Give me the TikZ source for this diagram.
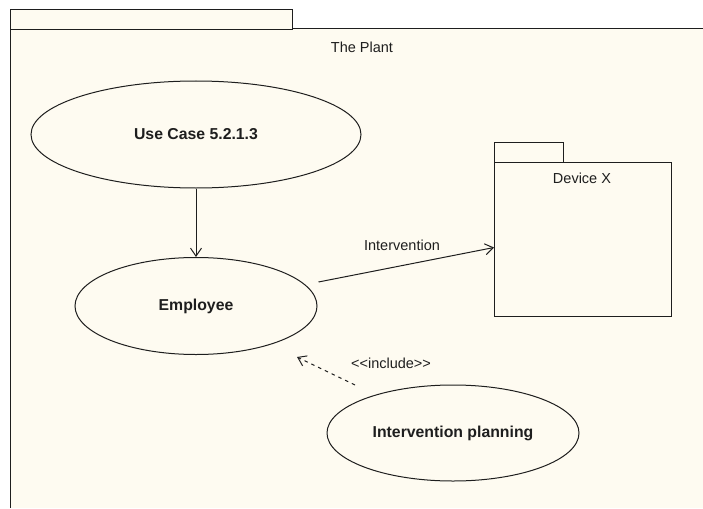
\documentclass[tikz,border=0pt]{standalone}
\usepackage{fontspec}
\setmainfont{Liberation Sans}
\usetikzlibrary{shapes.geometric,arrows.meta,calc}

\definecolor{umlfill}{RGB}{254,251,241}
\definecolor{umlline}{RGB}{30,30,30}

\tikzset{
  umlline/.style={draw=umlline, line width=1pt},
  usecase/.style={ellipse, umlline, fill=umlfill, inner sep=0pt,
    font=\fontsize{15.8}{18}\selectfont\bfseries, text=umlline},
  lbl/.style={font=\fontsize{14.5}{17}\selectfont, text=umlline, inner sep=0pt},
  assoc/.style={umlline, -{Straight Barb[length=8pt,width=11pt,line width=1pt]}},
  depend/.style={assoc, dash pattern=on 3.5pt off 4pt},
  pkgbox/.style={rectangle, umlline, fill=umlfill, inner sep=0pt}
}

\begin{document}
\begin{tikzpicture}[x=1pt,y=-1pt]
  \useasboundingbox[fill=white] (0,0) rectangle (703,508);

  % enclosing package "The Plant" (runs off the right and bottom edges)
  \fill[umlfill] (10,29) rectangle (703,508);
  \draw[umlline] (10,508) -- (10,29) -- (703,29);
  \node[pkgbox, minimum width=282pt, minimum height=20pt, anchor=north west]
    (planttab) at (10,9) {};
  \node[lbl] (plantname) at (362,47) {The Plant};

  % package "Device X"
  \node[pkgbox, minimum width=69pt, minimum height=20pt, anchor=north west]
    (devtab) at (494,142) {};
  \node[pkgbox, minimum width=177pt, minimum height=154pt, anchor=north west]
    (dev) at (494,162) {};
  \node[lbl] (devname) at (582,178) {Device X};

  % use cases
  \node[usecase, minimum width=330pt, minimum height=107pt] (uc) at (196,134.5) {Use Case 5.2.1.3};
  \node[usecase, minimum width=242pt, minimum height=97pt] (emp) at (196,306) {Employee};
  \node[usecase, minimum width=252pt, minimum height=96pt] (plan) at (453,433) {Intervention planning};

  % connectors
  \draw[assoc] (uc.south) -- (emp.north);
  \draw[assoc] ($(emp.east)+(1,-24)$) -- ($(dev.west)+(0,8)$);
  \node[lbl] (intlbl) at (402,245) {Intervention};

  \draw[depend] ($(plan.center)+(-98,-48)$) -- ($(emp.center)+(101,51)$);
  % kerns keep the doubled angle brackets from turning into guillemets
  \node[lbl] (inclbl) at (391,363) {<\kern0pt<include>\kern0pt>};
\end{tikzpicture}
\end{document}
